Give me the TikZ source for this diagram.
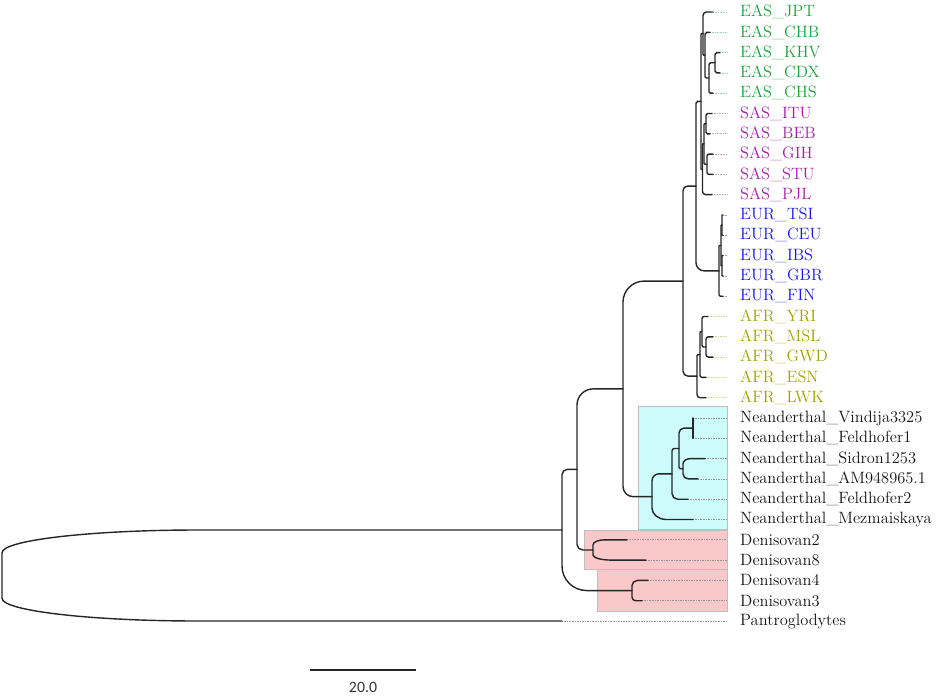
\documentclass[tikz,border=0pt]{standalone}
\usepackage{fontspec}
\newfontfamily\barfont{Carlito}
\usetikzlibrary{calc}
\definecolor{easc}{RGB}{30,160,60}
\definecolor{sasc}{RGB}{165,30,170}
\definecolor{eurc}{RGB}{25,25,230}
\definecolor{afrc}{RGB}{160,160,0}
\definecolor{arcc}{RGB}{20,20,20}
\definecolor{neabox}{RGB}{205,250,250}
\definecolor{denbox}{RGB}{250,200,200}

\begin{document}
\begin{tikzpicture}[x=0.03cm,y=-0.03cm,
    br/.style={line width=1.2pt,draw=black!85,line cap=round,
      to path={let \p1=(\tikztostart),\p2=(\tikztotarget),
        \n1={0.35*(\x2-\x1)},
        \n2={min(0.5*abs(\y2-\y1),\n1)*(\y2-\y1)/abs(\y2-\y1)} in
        -- (\x1,{\y2-\n2}) .. controls (\x1,{\y2-0.45*\n2}) and ({\x1+0.45*\n1},\y2) .. ({\x1+\n1},\y2) -- (\p2)}},
    leaf/.style={anchor=west,inner xsep=0.39cm,inner ysep=0pt,font=\fontsize{14}{16}\selectfont},
    dotline/.style={line width=0.6pt,dash pattern=on 0.6pt off 0.8pt},
    clade/.style={draw=black!25,line width=0.4pt}]
  \useasboundingbox (0,0) rectangle (941,697);

  % shaded clades
  \filldraw[clade,fill=neabox] (638,406) rectangle (727,529);
  \filldraw[clade,fill=denbox] (584,530) rectangle (727,569);
  \filldraw[clade,fill=denbox] (597,569) rectangle (727,611);

  % leaves: name/label/row/tip x/colour
  \foreach \nm/\txt/\r/\tx/\gc in {
      jpt/EAS\_JPT/0/713/easc, chb/EAS\_CHB/1/710/easc, khv/EAS\_KHV/2/720/easc,
      cdx/EAS\_CDX/3/720/easc, chs/EAS\_CHS/4/713/easc,
      itu/SAS\_ITU/5/712/sasc, beb/SAS\_BEB/6/710/sasc, gih/SAS\_GIH/7/713/sasc,
      stu/SAS\_STU/8/713/sasc, pjl/SAS\_PJL/9/712/sasc,
      tsi/EUR\_TSI/10/723/eurc, ceu/EUR\_CEU/11/723/eurc, ibs/EUR\_IBS/12/723/eurc,
      gbr/EUR\_GBR/13/723/eurc, fin/EUR\_FIN/14/723/eurc,
      yri/AFR\_YRI/15/708/afrc, msl/AFR\_MSL/16/713/afrc, gwd/AFR\_GWD/17/713/afrc,
      esn/AFR\_ESN/18/706/afrc, lwk/AFR\_LWK/19/706/afrc,
      vin/Neanderthal\_Vindija3325/20/693/arcc, fe1/Neanderthal\_Feldhofer1/21/693/arcc,
      sid/Neanderthal\_Sidron1253/22/705/arcc, am/Neanderthal\_AM948965.1/23/698/arcc,
      fe2/Neanderthal\_Feldhofer2/24/688/arcc, mez/Neanderthal\_Mezmaiskaya/25/693/arcc,
      d2/Denisovan2/26/627/arcc, d8/Denisovan8/27/646/arcc,
      d4/Denisovan4/28/648/arcc, d3/Denisovan3/29/642/arcc,
      pan/Pantroglodytes/30/562/arcc}{
    \coordinate (t\nm) at (\tx,{12+20.3*\r});
    \node[leaf,text=\gc] (\nm) at (727,{12+20.3*\r}) {\txt};
    \draw[dotline,draw=\gc!45] (t\nm) -- (\nm);
  }

  % internal nodes
  \coordinate (root) at (2,575.5);
  \coordinate (n1) at (562,530);
  \coordinate (n2) at (577,469.4);
  \coordinate (n3) at (623,388.9);
  \coordinate (n4) at (683,281.1);
  \coordinate (ees) at (696,186.1);
  \coordinate (es) at (701,101.45);
  \coordinate (eas) at (703,33.57);
  \coordinate (ckcs) at (705,55.14);
  \coordinate (kcs) at (709,77.98);
  \coordinate (kc) at (715,62.75);
  \coordinate (sas) at (702.5,169.33);
  \coordinate (ibgs) at (704,143.95);
  \coordinate (ib) at (706,123.65);
  \coordinate (gs) at (707,164.25);
  \coordinate (eur) at (719,270.8);
  \coordinate (tcig) at (721,245.45);
  \coordinate (tc) at (722,225.15);
  \coordinate (ig) at (722,265.75);
  \coordinate (afr) at (697,376.1);
  \coordinate (ymge) at (700,354.55);
  \coordinate (ymg) at (702,331.7);
  \coordinate (mg) at (706,346.95);
  \coordinate (ne0) at (652,496.65);
  \coordinate (ne1) at (672,473.8);
  \coordinate (ne2) at (679,448.45);
  \coordinate (sa) at (683,468.75);
  \coordinate (vf) at (693,428.15);
  \coordinate (d28) at (593,549.95);
  \coordinate (d43) at (632,590.55);

  % branches: parent/child/child
  \foreach \pa/\ca/\cb in {root/n1/tpan, n1/n2/d43, n2/n3/d28, n3/n4/ne0,
      n4/ees/afr, ees/es/eur, es/eas/sas,
      eas/tjpt/ckcs, ckcs/tchb/kcs, kcs/kc/tchs, kc/tkhv/tcdx,
      sas/ibgs/tpjl, ibgs/ib/gs, ib/titu/tbeb, gs/tgih/tstu,
      eur/tcig/tfin, tcig/tc/ig, tc/ttsi/tceu, ig/tibs/tgbr,
      afr/ymge/tlwk, ymge/ymg/tesn, ymg/tyri/mg, mg/tmsl/tgwd,
      ne0/ne1/tmez, ne1/ne2/tfe2, ne2/vf/sa, vf/tvin/tfe1, sa/tsid/tam,
      d28/td2/td8, d43/td4/td3}
    \draw[br] (\pa) to (\ca) (\pa) to (\cb);

  % scale bar
  \coordinate (sbl) at (310,670);
  \coordinate (sbr) at (416,670);
  \draw[line width=1.2pt,black!85] (sbl) -- (sbr);
  \node[font=\barfont\fontsize{13.5}{15}\selectfont,text=black!80] (sblab) at (363,687) {20.0};
\end{tikzpicture}
\end{document}
